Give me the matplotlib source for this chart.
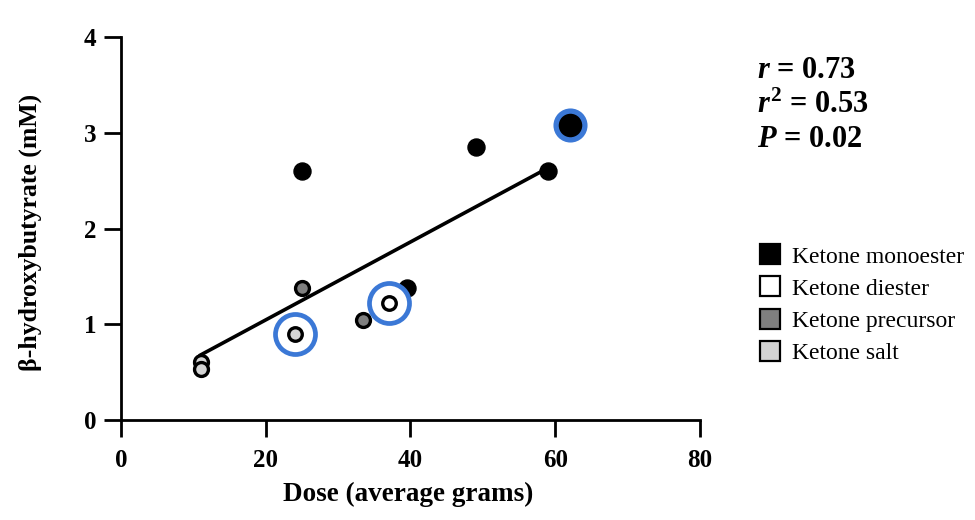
import matplotlib.pyplot as plt
from matplotlib.lines import Line2D

plt.rcParams['font.family'] = ['Liberation Serif', 'DejaVu Serif']
plt.rcParams['mathtext.fontset'] = 'custom'
plt.rcParams['mathtext.rm'] = 'Liberation Serif:bold'
plt.rcParams['mathtext.bf'] = 'Liberation Serif:bold'
plt.rcParams['mathtext.it'] = 'Liberation Serif:italic:bold'

# data
mono_x = [25, 49, 59, 39.5]
mono_y = [2.6, 2.85, 2.6, 1.38]
mono_new_x = [62]
mono_new_y = [3.08]
diester_x = [37]
diester_y = [1.22]
precursor_x = [25, 33.4]
precursor_y = [1.38, 1.05]
salt_x = [11, 11, 24]
salt_y = [0.61, 0.53, 0.9]

# highlighted (blue ring) points
ring_x = [24, 37]
ring_y = [0.9, 1.22]

# regression line end points
fit_x = [11, 58.2]
fit_y = [0.68, 2.60]

stats = [r'$\mathit{r}$ = 0.73', r'$\mathit{r}^{2}$ = 0.53', r'$\mathit{P}$ = 0.02']
legend_labels = ['Ketone monoester', 'Ketone diester', 'Ketone precursor', 'Ketone salt']
legend_colors = ['black', 'white', '#7f7f7f', '#d4d4d4']

blue = '#3b78d6'

fig = plt.figure(figsize=(9.75, 5.2), dpi=100)
ax = fig.add_axes([0.124, 0.192, 0.594, 0.737])

ax.plot(fit_x, fit_y, color='black', lw=2.6, zorder=2)

ax.scatter(salt_x, salt_y, s=100, c='#d4d4d4', edgecolors='black', linewidths=2.4, zorder=3)
ax.scatter(precursor_x, precursor_y, s=100, c='#7f7f7f', edgecolors='black', linewidths=2.4, zorder=3)
ax.scatter(mono_x, mono_y, s=150, c='black', edgecolors='black', linewidths=1, zorder=3)
ax.scatter(ring_x, ring_y, s=830, facecolors='white', edgecolors=blue, linewidths=3.4, zorder=4)
ax.scatter(diester_x, diester_y, s=95, c='white', edgecolors='black', linewidths=2.4, zorder=5)
ax.scatter(salt_x[2:], salt_y[2:], s=95, c='#d4d4d4', edgecolors='black', linewidths=2.4, zorder=5)
ax.scatter(mono_new_x, mono_new_y, s=430, facecolors='black', edgecolors=blue, linewidths=3.8, zorder=5)

ax.set_xlim(0, 80)
ax.set_ylim(0, 4)
ax.set_xticks([0, 20, 40, 60, 80])
ax.set_yticks([0, 1, 2, 3, 4])
for s in ['top', 'right']:
    ax.spines[s].set_visible(False)
for s in ['left', 'bottom']:
    ax.spines[s].set_linewidth(2)
ax.tick_params(length=12.5, width=2, labelsize=18, pad=5)
ax.tick_params(axis='x', pad=8)
for lab in ax.get_xticklabels() + ax.get_yticklabels():
    lab.set_fontweight('bold')

ax.set_xlabel('Dose (average grams)', fontsize=19.5, fontweight='bold')
ax.set_ylabel('β-hydroxybutyrate (mM)', fontsize=18.5, fontweight='bold')
ax.xaxis.set_label_coords(0.496, -0.16)
ax.yaxis.set_label_coords(-0.136, 0.49)

for i, t in enumerate(stats):
    fig.text(0.776, 0.865 - i * 0.067, t, fontsize=22, fontweight='bold', va='center')

handles = [Line2D([], [], ls='none', marker='s', markersize=14, markerfacecolor=c,
                  markeredgecolor='black', markeredgewidth=1.6) for c in legend_colors]
fig.legend(handles, legend_labels, loc='upper left', bbox_to_anchor=(0.768, 0.545),
           frameon=False, fontsize=17, handlelength=1.0, handletextpad=0.45,
           labelspacing=0.45, borderaxespad=0)

fig.savefig('out.png', dpi=100)
